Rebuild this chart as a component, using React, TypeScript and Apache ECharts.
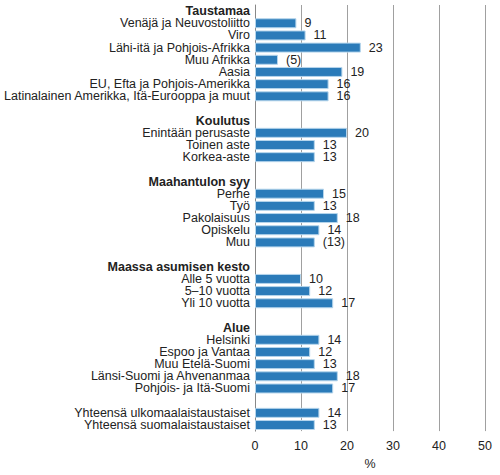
import { useEffect, useRef } from 'react'
import * as echarts from 'echarts'

// row labels, top to bottom; '' = spacer row, header rows have null values
const LABELS = [
  'Taustamaa',
  'Venäjä ja Neuvostoliitto',
  'Viro',
  'Lähi-itä ja Pohjois-Afrikka',
  'Muu Afrikka',
  'Aasia',
  'EU, Efta ja Pohjois-Amerikka',
  'Latinalainen Amerikka, Itä-Eurooppa ja muut',
  '',
  'Koulutus',
  'Enintään perusaste',
  'Toinen aste',
  'Korkea-aste',
  '',
  'Maahantulon syy',
  'Perhe',
  'Työ',
  'Pakolaisuus',
  'Opiskelu',
  'Muu',
  '',
  'Maassa asumisen kesto',
  'Alle 5 vuotta',
  '5–10 vuotta',
  'Yli 10 vuotta',
  '',
  'Alue',
  'Helsinki',
  'Espoo ja Vantaa',
  'Muu Etelä-Suomi',
  'Länsi-Suomi ja Ahvenanmaa',
  'Pohjois- ja Itä-Suomi',
  '',
  'Yhteensä ulkomaalaistaustaiset',
  'Yhteensä suomalaistaustaiset',
]

const HEADERS = ['Taustamaa', 'Koulutus', 'Maahantulon syy', 'Maassa asumisen kesto', 'Alue']

const VALUES: (number | null)[] = [
  null, 9, 11, 23, 5, 19, 16, 16,
  null,
  null, 20, 13, 13,
  null,
  null, 15, 13, 18, 14, 13,
  null,
  null, 10, 12, 17,
  null,
  null, 14, 12, 13, 18, 17,
  null,
  14, 13,
]

// values shown in brackets (small sample)
const BRACKETED = ['Muu Afrikka', 'Muu']

const X_TICKS = [0, 10, 20, 30, 40, 50]

const FONT = 'Liberation Sans, Arial, sans-serif'

export default function App() {
  const chartRef = useRef<HTMLDivElement>(null)

  useEffect(() => {
    if (!chartRef.current) return
    document.body.style.margin = '0'

    const chart = echarts.init(chartRef.current, null, { renderer: 'svg' })

    // category keys must be unique, so index them
    const keys = LABELS.map((_, i) => `r${i}`)

    const option: echarts.EChartsOption = {
      animation: false,
      backgroundColor: '#ffffff',
      grid: {
        left: 255,
        right: 15,
        top: 5,
        bottom: 35,
      },
      xAxis: {
        type: 'value',
        min: X_TICKS[0],
        max: X_TICKS[X_TICKS.length - 1],
        interval: 10,
        name: '%',
        nameLocation: 'middle',
        nameGap: 23,
        nameTextStyle: { color: '#222', fontSize: 12.5, fontFamily: FONT },
        axisLabel: { color: '#222', fontSize: 12.5, fontFamily: FONT, margin: 8 },
        axisLine: { show: false },
        axisTick: { show: false },
        splitLine: { lineStyle: { color: '#a0a0a0', width: 1 } },
      },
      yAxis: {
        type: 'category',
        inverse: true,
        data: keys,
        axisLine: { show: true, onZero: false, lineStyle: { color: '#888', width: 1 } },
        axisTick: { show: false },
        axisLabel: {
          interval: 0,
          margin: 5,
          fontSize: 12.5,
          lineHeight: 12,
          fontFamily: FONT,
          color: '#222',
          formatter: (v: string) => {
            const label = LABELS[Number(v.slice(1))]
            return HEADERS.includes(label) ? `{h|${label}}` : label
          },
          rich: {
            h: { fontWeight: 'bold', fontSize: 12.5, lineHeight: 12, fontFamily: FONT, color: '#222' },
          },
        },
      },
      series: [
        {
          type: 'bar',
          barCategoryGap: '18%',
          data: VALUES.map((v) => (v === null ? '-' : v)),
          itemStyle: {
            color: '#2b7bb9',
            borderColor: '#b5d5ec',
            borderWidth: 1,
          },
          label: {
            show: true,
            position: 'right',
            distance: 8,
            color: '#222',
            fontSize: 12.5,
            lineHeight: 12,
            fontFamily: FONT,
            formatter: (p: any) =>
              BRACKETED.includes(LABELS[p.dataIndex]) ? `(${p.value})` : `${p.value}`,
          },
        },
      ],
    }

    chart.setOption(option)

    return () => {
      chart.dispose()
    }
  }, [])

  return <div ref={chartRef} style={{ width: '500px', height: '475px' }} />
}
